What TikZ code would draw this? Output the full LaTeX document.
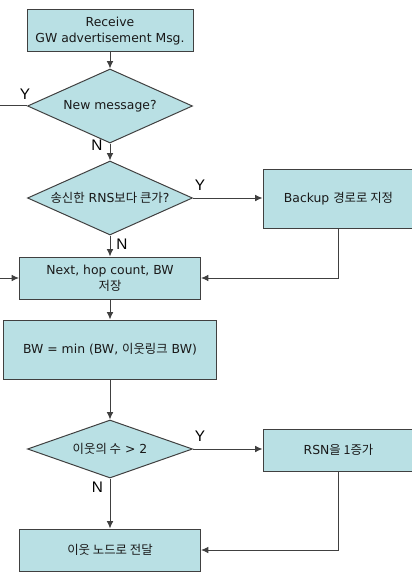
\documentclass[tikz,border=0pt]{standalone}
\usepackage{fontspec}
\setmainfont{DejaVu Sans}
\newfontfamily\kr{Noto Sans CJK KR}
\newfontfamily\lab{Liberation Sans}
\usetikzlibrary{shapes.geometric,arrows.meta}
\definecolor{boxfill}{RGB}{185,224,228}
\definecolor{boxline}{RGB}{64,64,64}
\begin{document}
\begin{tikzpicture}[x=0.75pt,y=-0.75pt,
  box/.style={rectangle, draw=boxline, fill=boxfill, line width=0.75pt, inner sep=0pt, align=center, font=\fontsize{9.3}{12}\selectfont, text=black!90},
  dec/.style={diamond, draw=boxline, fill=boxfill, line width=0.75pt, inner sep=0pt, font=\fontsize{9.3}{12}\selectfont, text=black!90, minimum width=123.75pt, minimum height=55.5pt},
  conn/.style={draw=boxline, line width=0.75pt, -{Latex[length=5.5pt,width=5pt]}},
  yn/.style={font=\lab\fontsize{11.5}{12}\selectfont, inner sep=0pt}]
\useasboundingbox (0,0) rectangle (411,574);
\node[box, minimum width=124.5pt, minimum height=31.5pt] (recv) at (110,31) {Receive\\GW advertisement Msg.};
\node[dec] (new) at (110,106) {\makebox[0pt]{New message?}};
\node[dec] (rns) at (110,198) {\makebox[0pt]{{\kr 송신한} RNS{\kr 보다 큰가}?}};
\node[box, minimum width=113.25pt, minimum height=44.25pt] (backup) at (338.5,198.5) {Backup {\kr 경로로 지정}};
\node[box, minimum width=135.75pt, minimum height=31.5pt] (store) at (110,278) {Next, hop count, BW\\{\kr 저장}};
\node[box, minimum width=159.75pt, minimum height=44.25pt] (bw) at (110,349.5) {BW = min (BW, {\kr 이웃링크} BW)};
\node[dec, minimum height=43.5pt] (nb) at (110,449) {\makebox[0pt]{{\kr 이웃의 수} > 2}};
\node[box, minimum width=113.25pt, minimum height=31.5pt] (rsn) at (338.5,450) {RSN{\kr 을 1증가}};
\node[box, minimum width=135.75pt, minimum height=31.5pt] (fwd) at (110,550) {{\kr 이웃 노드로 전달}};
\coordinate (lft) at (-2,278);
\draw[conn] (recv) -- (new);
\draw[conn] (new) -- (rns);
\draw[conn] (rns.east) -- (rns.east -| backup.west);
\draw[conn] (rns) -- (store);
\draw[conn] (new.west) -- (new.west -| lft) -- (lft) -- (store.west);
\draw[conn] (backup.south) |- (store.east);
\draw[conn] (store) -- (bw);
\draw[conn] (bw) -- (nb);
\draw[conn] (nb.east) -- (nb.east -| rsn.west);
\draw[conn] (nb) -- (fwd);
\draw[conn] (rsn.south) |- (fwd.east);
\node[yn] (y1) at (25,94.5) {Y};
\node[yn] (n1) at (97,145) {N};
\node[yn] (y2) at (200,185) {Y};
\node[yn] (n2) at (122,244) {N};
\node[yn] (y3) at (200,436) {Y};
\node[yn] (n3) at (97.5,487) {N};
\end{tikzpicture}
\end{document}
